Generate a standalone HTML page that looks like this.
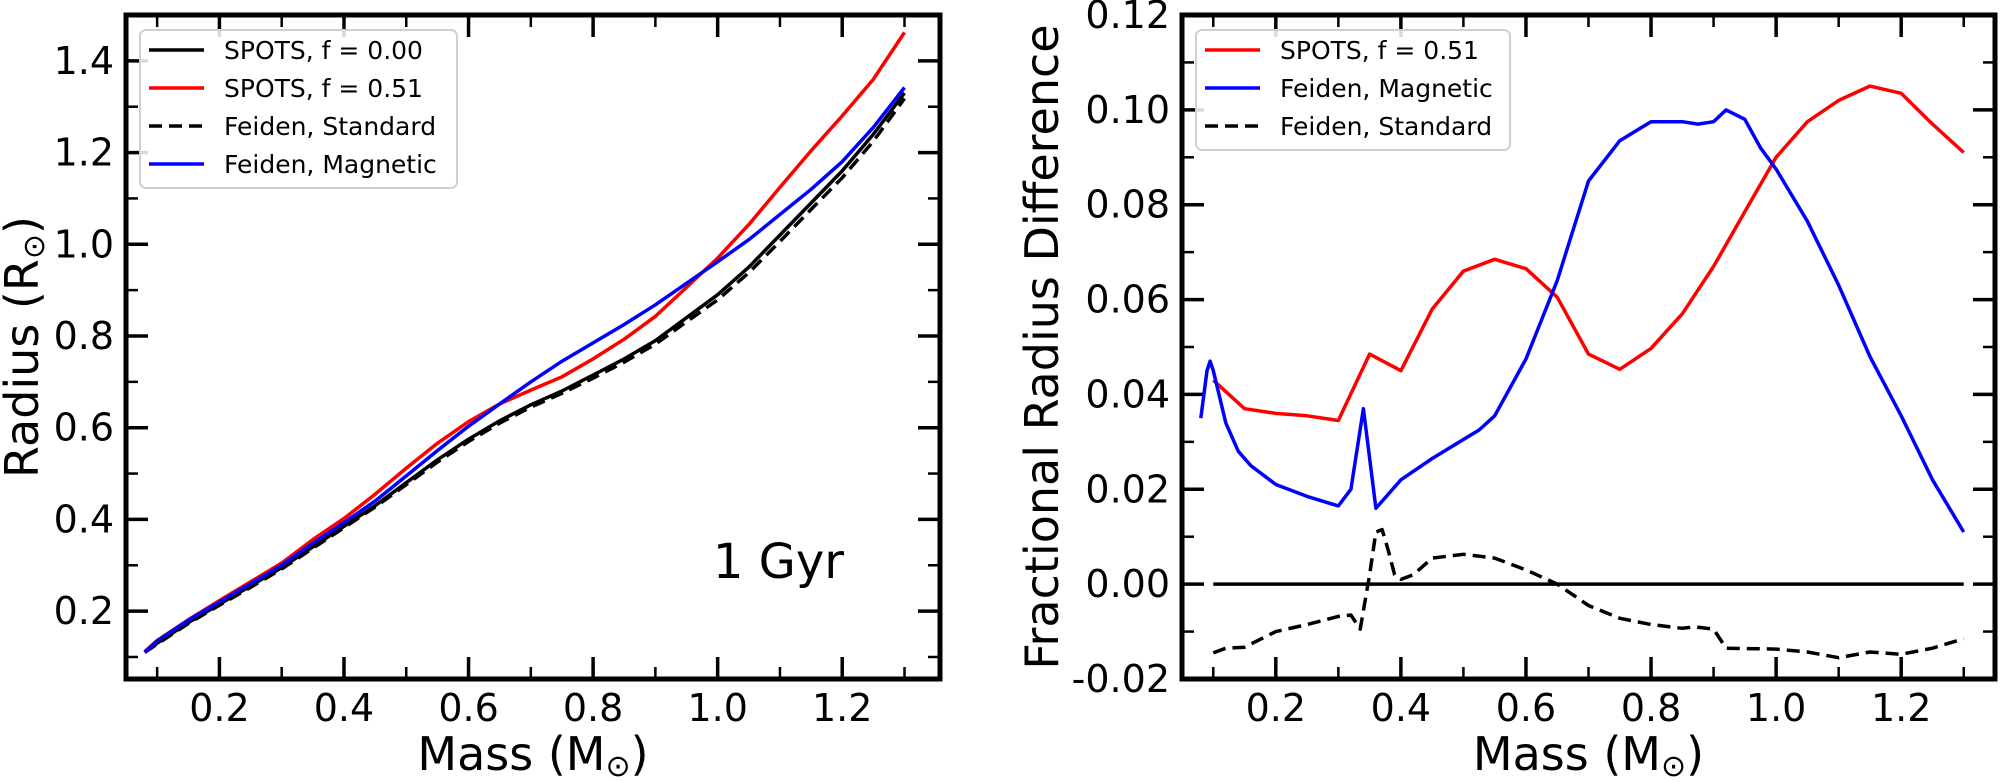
<!DOCTYPE html>
<html><head><meta charset="utf-8"><style>
html,body{margin:0;padding:0;background:#fff;}
svg{display:block;font-family:"DejaVu Sans","Liberation Sans",sans-serif;}
</style></head><body>
<svg id="chart" width="2000" height="782" viewBox="0 0 2000 782"></svg>
<script>
// ---- Data ----
const massL = [0.08,0.1,0.15,0.2,0.25,0.3,0.35,0.4,0.45,0.5,0.55,0.6,0.65,0.7,0.75,0.8,0.85,0.9,0.95,1.0,1.05,1.1,1.15,1.2,1.25,1.3];
const spots0 = [0.11,0.13,0.175,0.215,0.255,0.295,0.34,0.385,0.43,0.48,0.53,0.575,0.615,0.65,0.68,0.715,0.75,0.79,0.84,0.89,0.95,1.02,1.09,1.16,1.24,1.33];
const spots51 = [0.112,0.136,0.181,0.223,0.264,0.305,0.356,0.402,0.455,0.512,0.566,0.613,0.652,0.682,0.711,0.75,0.793,0.843,0.906,0.97,1.043,1.124,1.204,1.28,1.36,1.462];
const feidenStd = [0.11,0.128,0.173,0.213,0.252,0.292,0.337,0.382,0.427,0.476,0.525,0.57,0.61,0.645,0.675,0.708,0.743,0.782,0.831,0.879,0.938,1.006,1.076,1.145,1.225,1.318];
const feidenMag = [0.11,0.135,0.18,0.22,0.26,0.30,0.348,0.393,0.44,0.495,0.55,0.603,0.652,0.70,0.745,0.785,0.825,0.868,0.915,0.962,1.01,1.065,1.12,1.18,1.255,1.342];

const massRed = [0.1,0.15,0.2,0.25,0.3,0.35,0.4,0.45,0.5,0.55,0.6,0.65,0.7,0.75,0.8,0.85,0.9,0.95,1.0,1.05,1.1,1.15,1.2,1.25,1.3];
const diffRed = [0.043,0.037,0.036,0.0355,0.0345,0.0485,0.045,0.058,0.066,0.0685,0.0665,0.0605,0.0485,0.0453,0.0497,0.057,0.067,0.0785,0.09,0.0975,0.102,0.105,0.1035,0.097,0.091];
const massBlue = [0.08,0.09,0.095,0.1,0.12,0.14,0.16,0.2,0.25,0.3,0.32,0.34,0.36,0.4,0.45,0.5,0.525,0.55,0.6,0.65,0.7,0.75,0.8,0.85,0.875,0.9,0.92,0.95,0.975,1.0,1.05,1.1,1.15,1.2,1.25,1.3];
const diffBlue = [0.035,0.045,0.047,0.045,0.034,0.028,0.025,0.021,0.0185,0.0165,0.02,0.037,0.016,0.022,0.0265,0.0305,0.0325,0.0355,0.0475,0.064,0.085,0.0935,0.0975,0.0975,0.097,0.0975,0.1,0.098,0.092,0.0875,0.0765,0.063,0.048,0.0355,0.022,0.011];
const massStd = [0.1,0.12,0.15,0.2,0.25,0.3,0.32,0.335,0.35,0.36,0.37,0.38,0.39,0.4,0.42,0.45,0.5,0.55,0.6,0.65,0.7,0.75,0.8,0.85,0.87,0.9,0.92,1.0,1.05,1.1,1.15,1.2,1.25,1.3];
const diffStd = [-0.0145,-0.0135,-0.0133,-0.01,-0.0085,-0.0068,-0.0065,-0.0095,0.002,0.011,0.0115,0.007,0.002,0.001,0.002,0.0055,0.0063,0.0055,0.003,0.0,-0.0045,-0.0072,-0.0085,-0.0093,-0.009,-0.0095,-0.0135,-0.0137,-0.0143,-0.0155,-0.0143,-0.0148,-0.0135,-0.0115];

const xTicks = [0.2,0.4,0.6,0.8,1.0,1.2];
const yTicksL = [0.2,0.4,0.6,0.8,1.0,1.2,1.4];
const yTicksR = [-0.02,0.00,0.02,0.04,0.06,0.08,0.10,0.12];

// ---- Axes ----
const NS = "http://www.w3.org/2000/svg";
const svg = document.getElementById('chart');
function el(tag, attrs, parent){ const e=document.createElementNS(NS,tag); for(const k in attrs) e.setAttribute(k,attrs[k]); (parent||svg).appendChild(e); return e; }

const L = {x0:126,x1:940,y0:15,y1:679,xmin:0.05,xmax:1.357,ymin:0.052,ymax:1.5};
const R = {x0:1182,x1:1995,y0:15,y1:679,xmin:0.05,xmax:1.35,ymin:-0.02,ymax:0.12};
function sx(a,v){return a.x0+(v-a.xmin)/(a.xmax-a.xmin)*(a.x1-a.x0);}
function sy(a,v){return a.y1-(v-a.ymin)/(a.ymax-a.ymin)*(a.y1-a.y0);}

function drawLine(a, xs, ys, color, dash, name){
  const d = xs.map((x,i)=>(i?'L':'M')+sx(a,x).toFixed(1)+','+sy(a,ys[i]).toFixed(1)).join(' ');
  const p = el('path',{d:d,fill:'none',stroke:color,'stroke-width':3.5,'stroke-linejoin':'round'});
  if(dash) p.setAttribute('stroke-dasharray','13,7');
  
  
}

function drawAxes(a, yt, ylabel, yfmt, yminor, prefix){
  const g = el('g',{});
  
  
  // minor x ticks
  for(let v=0.1; v<a.xmax; v+=0.1){
    const x=sx(a,v); if(x<=a.x0+2) continue;
    el('line',{x1:x,x2:x,y1:a.y1,y2:a.y1-12,stroke:'#000','stroke-width':2.5},g);
    el('line',{x1:x,x2:x,y1:a.y0,y2:a.y0+12,stroke:'#000','stroke-width':2.5},g);
  }
  xTicks.forEach(v=>{
    const x=sx(a,v);
    el('line',{x1:x,x2:x,y1:a.y1,y2:a.y1-22,stroke:'#000','stroke-width':3.5},g);
    el('line',{x1:x,x2:x,y1:a.y0,y2:a.y0+22,stroke:'#000','stroke-width':3.5},g);
    const t=el('text',{x:x,y:721,'font-size':38,'text-anchor':'middle',fill:'#000'},g);
    t.textContent=v.toFixed(1);
    
    
  });
  yminor.forEach(v=>{
    const y=sy(a,v);
    el('line',{x1:a.x0,x2:a.x0+12,y1:y,y2:y,stroke:'#000','stroke-width':2.5},g);
    el('line',{x1:a.x1,x2:a.x1-12,y1:y,y2:y,stroke:'#000','stroke-width':2.5},g);
  });
  yt.forEach(v=>{
    const y=sy(a,v);
    el('line',{x1:a.x0,x2:a.x0+22,y1:y,y2:y,stroke:'#000','stroke-width':3.5},g);
    el('line',{x1:a.x1,x2:a.x1-22,y1:y,y2:y,stroke:'#000','stroke-width':3.5},g);
    const t=el('text',{x:a.x0-12,y:y+13,'font-size':38,'text-anchor':'end',fill:'#000'},g);
    t.textContent=yfmt(v);
    
    
  });
  const f=el('rect',{x:a.x0,y:a.y0,width:a.x1-a.x0,height:a.y1-a.y0,fill:'none',stroke:'#000','stroke-width':5},g);
  
  
  const xl=el('text',{x:(a.x0+a.x1)/2,y:770,'font-size':46,'text-anchor':'middle',fill:'#000'},g);
  xl.innerHTML='Mass (M<tspan font-size="30" dy="6">⊙</tspan><tspan dy="-6">)</tspan>';
  
  
}

drawAxes(L, yTicksL, '', v=>v.toFixed(1), [0.1,0.3,0.5,0.7,0.9,1.1,1.3], 'left');
drawAxes(R, yTicksR, '', v=>v.toFixed(2), [-0.01,0.01,0.03,0.05,0.07,0.09,0.11], 'right');

// y axis titles
const ylL=el('text',{x:0,y:0,'font-size':46,'text-anchor':'middle',fill:'#000',transform:'translate(38,347) rotate(-90)'});
ylL.innerHTML='Radius (R<tspan font-size="30" dy="6">⊙</tspan><tspan dy="-6">)</tspan>';


const ylR=el('text',{x:0,y:0,'font-size':46,'text-anchor':'middle',fill:'#000',transform:'translate(1058,347) rotate(-90)'});
ylR.textContent='Fractional Radius Difference';



// Left series
drawLine(L, massL, spots0, '#000', false, 'spots-f000-line');
drawLine(L, massL, feidenStd, '#000', true, 'feiden-standard-line');
drawLine(L, massL, spots51, '#ff0000', false, 'spots-f051-line');
drawLine(L, massL, feidenMag, '#0000ff', false, 'feiden-magnetic-line');

// Right series
const zl=el('line',{x1:sx(R,0.1),x2:sx(R,1.3),y1:sy(R,0),y2:sy(R,0),stroke:'#000','stroke-width':3.5});


drawLine(R, massRed, diffRed, '#ff0000', false, 'spots-f051-diff-line');
drawLine(R, massBlue, diffBlue, '#0000ff', false, 'feiden-magnetic-diff-line');
drawLine(R, massStd, diffStd, '#000', true, 'feiden-standard-diff-line');

// Annotation
const gyr=el('text',{x:844,y:578,'font-size':48,'text-anchor':'end',fill:'#000'});
gyr.textContent='1 Gyr';



// Legends
function legend(x,y,w,h,items,name){
  const g=el('g',{});
  
  
  el('rect',{x:x,y:y,width:w,height:h,rx:6,fill:'#fff','fill-opacity':0.85,stroke:'#d0d0d0','stroke-width':2},g);
  items.forEach((it,i)=>{
    const cy=y+20+i*38;
    const ln=el('line',{x1:x+9,x2:x+64,y1:cy,y2:cy,stroke:it[1],'stroke-width':3.5},g);
    if(it[2]) ln.setAttribute('stroke-dasharray','13,7');
    const t=el('text',{x:x+84,y:cy+9,'font-size':25,fill:'#000'},g);
    t.textContent=it[0];
    
    
  });
}
legend(140,30,317,158,[['SPOTS, f = 0.00','#000',false],['SPOTS, f = 0.51','#ff0000',false],['Feiden, Standard','#000',true],['Feiden, Magnetic','#0000ff',false]],'left-legend');
legend(1196,30,314,120,[['SPOTS, f = 0.51','#ff0000',false],['Feiden, Magnetic','#0000ff',false],['Feiden, Standard','#000',true]],'right-legend');
</script>
</body></html>
